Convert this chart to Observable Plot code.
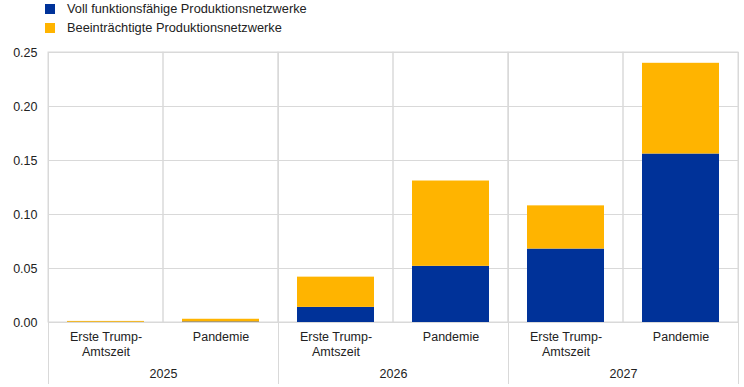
<!DOCTYPE html>
<html>
<head>
<meta charset="utf-8">
<script src="https://cdn.jsdelivr.net/npm/d3@7"></script>
<script src="https://cdn.jsdelivr.net/npm/@observablehq/plot@0.6"></script>
<style>
  body { margin: 0; background: #fff; font-family: "Liberation Sans", Arial, sans-serif; }
  #wrap { position: relative; width: 744px; height: 387px; }
  #legend { position: absolute; left: 45px; top: -1px; font-size: 12.8px; color: #222; }
  .item { display: flex; align-items: center; height: 19px; }
  .sw { width: 10px; height: 10px; margin-right: 12px; }
</style>
</head>
<body>
<div id="wrap">
  <div id="chart"></div>
  <div id="legend"></div>
</div>
<script>
const years = ["2025", "2025", "2026", "2026", "2027", "2027"];
const scenarios = ["Erste Trump-Amtszeit", "Pandemie", "Erste Trump-Amtszeit", "Pandemie", "Erste Trump-Amtszeit", "Pandemie"];
const seriesNames = ["Voll funktionsfähige Produktionsnetzwerke", "Beeinträchtigte Produktionsnetzwerke"];
const vollValues = [0.0002, 0.0005, 0.014, 0.052, 0.068, 0.156];
const beeintValues = [0.0008, 0.0025, 0.028, 0.079, 0.040, 0.084];
const yearDomain = ["2025", "2026", "2027"];
const scenarioDomain = ["Erste Trump-Amtszeit", "Pandemie"];
const scenarioLabels = ["Erste Trump-\nAmtszeit", "Pandemie"];
const yTicks = [0, 0.05, 0.10, 0.15, 0.20, 0.25];
const colors = ["#003299", "#FFB400"];

const rows = years.flatMap((y, i) => [
  {year: y, scen: scenarios[i], series: seriesNames[0], value: vollValues[i]},
  {year: y, scen: scenarios[i], series: seriesNames[1], value: beeintValues[i]}
]);

const grid = "#d9d9d9";
const chart = Plot.plot({
  width: 744,
  height: 387,
  marginTop: 52,
  marginBottom: 65,
  marginLeft: 47,
  marginRight: 5,
  style: {fontFamily: "'Liberation Sans', Arial, sans-serif", fontSize: "12.5px", color: "#222", background: "#fff"},
  fx: {domain: yearDomain, padding: 0, label: null},
  x: {domain: scenarioDomain, padding: 0, label: null},
  y: {domain: [0, 0.25], label: null},
  color: {domain: seriesNames, range: colors},
  marks: [
    Plot.gridY(yTicks, {stroke: grid, strokeOpacity: 1}),
    Plot.barY(scenarioDomain, {x: d => d, y1: 0, y2: 0.25, fill: "none", stroke: grid}),
    Plot.frame({anchor: "left", stroke: grid, insetBottom: -61}),
    Plot.frame({anchor: "right", stroke: grid, insetBottom: -61}),
    Plot.barY(rows, {fx: "year", x: "scen", y: "value", fill: "series", insetLeft: 19, insetRight: 19}),
    Plot.axisY(yTicks, {tickFormat: d3.format(".2f"), tickSize: 0, tickPadding: 11, fill: "#222", fontSize: 12.5}),
    Plot.axisX({tickSize: 0, tickPadding: 8, lineHeight: 1.2, fill: "#222", fontSize: 12.5,
      tickFormat: d => scenarioLabels[scenarioDomain.indexOf(d)]}),
    Plot.axisFx({anchor: "bottom", tickSize: 0, tickPadding: 47, label: null, fill: "#222", fontSize: 12.5})
  ]
});
document.getElementById("chart").appendChild(chart);

const legend = document.getElementById("legend");
seriesNames.forEach((name, i) => {
  const item = document.createElement("div");
  item.className = "item";
  const sw = document.createElement("div");
  sw.className = "sw";
  sw.style.background = colors[i];
  item.appendChild(sw);
  item.appendChild(document.createTextNode(name));
  legend.appendChild(item);
});
</script>
</body>
</html>
